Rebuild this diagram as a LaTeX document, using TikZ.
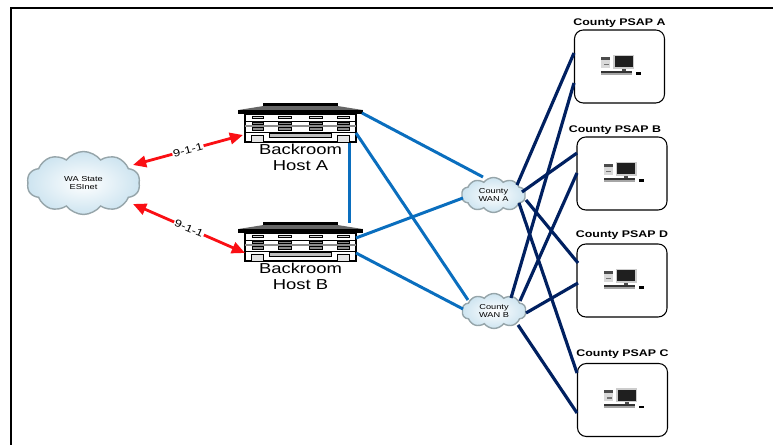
\documentclass[tikz,border=0pt]{standalone}
\usepackage{fontspec}
\setmainfont{Liberation Sans}
\usepackage{tikz}
\usetikzlibrary{
  	positioning,
  	arrows.meta,
  	shapes.symbols,
  	calc
  }
\definecolor{linkblue}{RGB}{10,110,190}
\definecolor{linknavy}{RGB}{0,32,96}
\definecolor{linkred}{RGB}{250,15,20}
\definecolor{cloudedge}{RGB}{150,165,170}
\definecolor{cloudfill}{RGB}{205,228,240}
\newcommand{\wtxt}[1]{\scalebox{1.28}[1]{#1}}
\tikzstyle{frameline}=[line width=1.2pt,black]
\tikzstyle{bluelink}=[line width=1.7pt,linkblue]
\tikzstyle{navylink}=[line width=1.8pt,linknavy]
\tikzstyle{redlink}=[line width=1.6pt,linkred,{Triangle[length=7.5pt,width=6.5pt]}-{Triangle[length=7.5pt,width=6.5pt]}]
\tikzstyle{netcloud}=[cloud,cloud puffs=10,cloud puff arc=105,cloud ignores aspect,draw=cloudedge,line width=.8pt,inner color=white,outer color=cloudfill,inner sep=0pt,align=center]
\tikzstyle{smalltxt}=[font=\fontsize{4.1}{4.4}\selectfont]
\tikzstyle{psapbox}=[draw=black,line width=.6pt,rounded corners=5pt,minimum width=1.8cm,minimum height=1.46cm,inner sep=0pt]
\tikzstyle{psaptxt}=[font=\fontsize{5.5}{6}\selectfont\bfseries,inner sep=0pt]
\tikzstyle{hostbody}=[minimum width=2.22cm,minimum height=.56cm,inner sep=0pt]
\tikzstyle{hosttxt}=[font=\fontsize{8.2}{9}\selectfont,inner sep=0pt,align=center]
\tikzstyle{calltxt}=[font=\fontsize{5.8}{6}\selectfont,text=black,fill=white,inner sep=.5pt,sloped,midway]
\tikzset{
  pics/serverrack/.style={code={
    \fill [black!60] (-62,18) -- (-37,22) -- (37,22) -- (62,18) -- cycle;
    \fill [black] (-37.5,22) rectangle (37.5,25);
    \draw [line width=.6pt,fill=white] (-55.5,-14) rectangle (55.5,14);
    \draw [line width=.5pt] (-55.5,7) -- (55.5,7);
    \draw [line width=1pt,black!45] (-55.5,2) -- (55.5,2);
    \draw [line width=.5pt] (-55.5,-4) -- (55.5,-4);
    \filldraw [line width=.3pt,fill=black!15]
       (-48.5,10) rectangle (-37.5,12) (-22.5,10) rectangle (-9.5,12)
       (8.5,10) rectangle (21.5,12) (36.5,10) rectangle (48.5,12);
    \filldraw [line width=.3pt,fill=black!45]
       (-48.5,4) rectangle (-37.5,6) (-22.5,4) rectangle (-9.5,6)
       (8.5,4) rectangle (21.5,6) (36.5,4) rectangle (48.5,6);
    \filldraw [line width=.3pt,fill=black!45]
       (-48.5,-2) rectangle (-37.5,1) (-22.5,-2) rectangle (-9.5,1)
       (8.5,-2) rectangle (21.5,1) (36.5,-2) rectangle (48.5,1);
    \filldraw [line width=.3pt,fill=black!10]
       (-49.5,-14) rectangle (-37.5,-7) (36.5,-14) rectangle (48.5,-7);
    \filldraw [line width=.3pt,fill=black!25] (-31.5,-9) rectangle (30.5,-5);
    \fill [black] (-62.5,13.5) rectangle (62.5,18);
  }},
  pics/workstation/.style={code={
    \fill [black!15] (-18.5,-1.5) rectangle (-9.5,9.5);
    \fill [black!70] (-18.5,6.5) rectangle (-9.5,9.5);
    \fill [black!55] (-16,1) rectangle (-11,2.5);
    \fill [black!20] (-6.5,-2.5) rectangle (14.5,11.5);
    \fill [black!88] (-5,-1) rectangle (13,10);
    \fill [black!70] (2,-4.5) rectangle (6,-2.5);
    \fill [black!80] (-18.5,-6.5) rectangle (12.5,-4.5);
    \fill [black!35] (-18.5,-8.5) rectangle (12.5,-6.5);
    \fill [black] (16.5,-8.5) rectangle (21.5,-6);
  }}
}
\begin{document}
\begin{tikzpicture}[x=.02cm,y=.02cm]
\useasboundingbox (0,0) rectangle (773,445);
\draw [frameline] (11,0) -- (11,437) -- (773,437);
\node [netcloud,smalltxt,minimum width=2.26cm,minimum height=1.26cm] (esinet) at (83.5,262) {\wtxt{WA State}\\\wtxt{ESInet}};
\node [hostbody] (hosta) at (300.5,317) {};
\node [hostbody] (hostb) at (300.5,198) {};
\pic at (hosta) {serverrack};
\pic at (hostb) {serverrack};
\node [hosttxt,below=.9pt of hosta] (hostatxt) {\wtxt{Backroom}\\\wtxt{Host A}};
\node [hosttxt,below=.9pt of hostb] (hostbtxt) {\wtxt{Backroom}\\\wtxt{Host B}};
\node [netcloud,smalltxt,minimum width=1.28cm,minimum height=.7cm] (wana) at (493.5,250) {\wtxt{County}\\\wtxt{WAN A}};
\node [netcloud,smalltxt,minimum width=1.28cm,minimum height=.7cm] (wanb) at (494,134) {\wtxt{County}\\\wtxt{WAN B}};
\node [psapbox] (psapa) at (619.5,378.5) {};
\node [psapbox] (psapb) at (622,271.5) {};
\node [psapbox] (psapd) at (622,164.5) {};
\node [psapbox] (psapc) at (622.5,45) {};
\pic at (psapa) {workstation};
\pic at (psapb) {workstation};
\pic at (psapd) {workstation};
\pic at (psapc) {workstation};
\node [psaptxt,above=1.2pt of psapa] (psapatxt) {\wtxt{County PSAP A}};
\node [psaptxt,above=1.2pt of psapb,xshift=-4pt] (psapbtxt) {\wtxt{County PSAP B}};
\node [psaptxt,above=1.8pt of psapd] (psapdtxt) {\wtxt{County PSAP D}};
\node [psaptxt,above=2.2pt of psapc] (psapctxt) {\wtxt{County PSAP C}};
\draw [redlink] ($(esinet)+(49.5,18)$) -- ($(hosta)+(-57.5,-7)$)
   node [calltxt] {\wtxt{9-1-1}};
\draw [redlink] ($(esinet)+(49.5,-21)$) -- ($(hostb)+(-55.5,-6)$)
   node [calltxt] {\wtxt{9-1-1}};
\draw [bluelink] ($(hosta)+(61.5,15)$) -- ($(wana)+(-10.5,18)$);
\draw [bluelink] ($(hosta)+(55.5,-5)$) -- ($(wanb)+(-26,11)$);
\draw [bluelink] ($(hosta)+(48.5,-15)$) -- ($(hostb)+(48.5,24)$);
\draw [bluelink] ($(hostb)+(55.5,9)$) -- ($(wana)+(-30.5,-3)$);
\draw [bluelink] ($(hostb)+(55.5,-6)$) -- ($(wanb)+(-31,2)$);
\draw [navylink] ($(wana)+(23.5,10)$) -- ($(psapa)+(-45.5,13.5)$);
\draw [navylink] ($(wana)+(28.5,3)$) -- ($(psapb)+(-45,20.5)$);
\draw [navylink] ($(wana)+(32.5,-5)$) -- ($(psapd)+(-44,17.5)$);
\draw [navylink] ($(wana)+(25.5,-8)$) -- ($(psapc)+(-45.5,27)$);
\draw [navylink] ($(wanb)+(17,13)$) -- ($(psapa)+(-45.5,-16.5)$);
\draw [navylink] ($(wanb)+(26,10)$) -- ($(psapb)+(-45,.5)$);
\draw [navylink] ($(wanb)+(32,-2)$) -- ($(psapd)+(-44,-2.5)$);
\draw [navylink] ($(wanb)+(24,-14)$) -- ($(psapc)+(-45.5,-13)$);
\end{tikzpicture}
\end{document}
